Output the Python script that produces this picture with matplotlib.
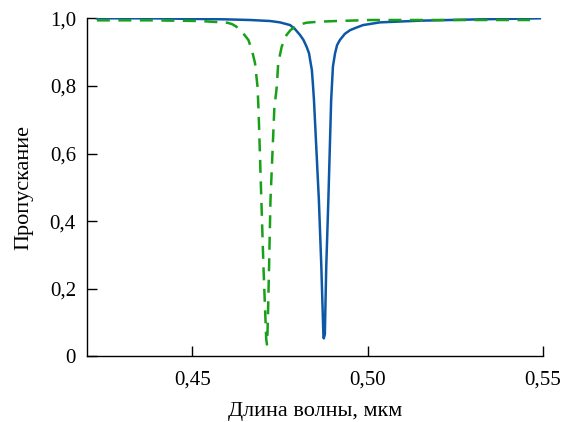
import matplotlib
matplotlib.use("Agg")
import matplotlib.pyplot as plt

plt.rcParams["font.family"] = ["Liberation Serif", "DejaVu Serif"]

# спектры пропускания, снятые по точкам (длина волны в мкм)
wl_blue = [0.4228, 0.4380, 0.4594, 0.4665, 0.4722, 0.4750, 0.4779, 0.4793,
           0.4807, 0.4817, 0.4826, 0.4833, 0.4836, 0.4841, 0.4844, 0.4847,
           0.4861, 0.4868, 0.4874, 0.4875, 0.4878, 0.4882, 0.4888, 0.4896,
           0.4899, 0.4901, 0.4907, 0.4913, 0.4921, 0.4935, 0.4950, 0.4969,
           0.4987, 0.5035, 0.5149, 0.5320, 0.5491]
tr_blue = [1.000, 1.000, 0.997, 0.995, 0.992, 0.988, 0.980, 0.968,
           0.951, 0.936, 0.916, 0.896, 0.877, 0.847, 0.805, 0.758,
           0.462, 0.265, 0.058, 0.053, 0.065, 0.265, 0.462, 0.758,
           0.817, 0.857, 0.896, 0.921, 0.936, 0.954, 0.965, 0.973,
           0.980, 0.988, 0.993, 0.997, 1.000]

wl_green = [0.4228, 0.4380, 0.4523, 0.4600, 0.4613, 0.4625, 0.4636, 0.4648,
            0.4660, 0.4670, 0.4679, 0.4686, 0.4689, 0.4697, 0.4703, 0.4708,
            0.4711, 0.4713, 0.4714, 0.4716, 0.4719, 0.4723, 0.4734, 0.4741,
            0.4745, 0.4755, 0.4769, 0.4780, 0.4793, 0.4808, 0.4826, 0.4860,
            0.4912, 0.5007, 0.5234, 0.5463]
tr_green = [0.994, 0.994, 0.992, 0.987, 0.983, 0.976, 0.965, 0.952,
            0.936, 0.906, 0.867, 0.798, 0.729, 0.462, 0.265, 0.128,
            0.050, 0.035, 0.050, 0.128, 0.265, 0.462, 0.733, 0.798,
            0.867, 0.916, 0.951, 0.965, 0.975, 0.982, 0.987, 0.990,
            0.992, 0.995, 0.995, 0.995]

yticks = [0, 0.2, 0.4, 0.6, 0.8, 1.0]
ylabels = ["0", "0,2", "0,4", "0,6", "0,8", "1,0"]
xticks = [0.45, 0.50, 0.55]
xlabels = ["0,45", "0,50", "0,55"]

fig = plt.figure(figsize=(5.71, 4.22), dpi=100)
ax = fig.add_axes([0.1524, 0.1557, 0.7986, 0.8009])

ax.plot(wl_blue, tr_blue, color="#0d58a6", lw=1.8, zorder=3)
ax.plot(wl_green, tr_green, color="#17a018", lw=1.8, dashes=(5.2, 3.4), zorder=4)

ax.set_xlim(0.42, 0.55)
ax.set_ylim(0, 1.0)
ax.set_xticks(xticks)
ax.set_xticklabels(xlabels)
ax.set_yticks(yticks)
ax.set_yticklabels(ylabels)

for s in ["top", "right"]:
    ax.spines[s].set_visible(False)
for s in ["left", "bottom"]:
    ax.spines[s].set_linewidth(1.0)
    ax.spines[s].set_clip_on(False)

ax.tick_params(direction="in", length=7.5, width=1.0, labelsize=15, colors="black")
ax.tick_params(axis="y", pad=8)
ax.tick_params(axis="x", pad=10)

ax.set_xlabel("Длина волны, мкм", fontsize=16, labelpad=9)
ax.set_ylabel("Пропускание", fontsize=16, labelpad=12)

fig.savefig("out.png", dpi=100)
